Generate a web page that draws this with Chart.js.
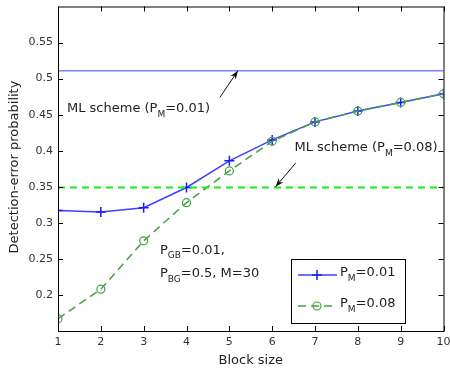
<!DOCTYPE html>
<html>
<head>
<meta charset="utf-8">
<script src="https://cdn.jsdelivr.net/npm/chart.js@4"></script>
<style>
  html, body { margin: 0; padding: 0; background: #fff; }
  #wrap { width: 450px; height: 371px; }
</style>
</head>
<body>
<div id="wrap"><canvas id="bpChart" width="450" height="371"></canvas></div>
<script>
// Values
const blockSizes = [1, 2, 3, 4, 5, 6, 7, 8, 9, 10];
const pm001 = [0.317, 0.315, 0.321, 0.349, 0.386, 0.415, 0.440, 0.455, 0.467, 0.479];
const pm008 = [0.167, 0.208, 0.275, 0.328, 0.372, 0.413, 0.440, 0.455, 0.467, 0.479];
const mlPm001 = 0.511;
const mlPm008 = 0.349;
const yTicks = [0.2, 0.25, 0.3, 0.35, 0.4, 0.45, 0.5, 0.55];
const xTicks = [1, 2, 3, 4, 5, 6, 7, 8, 9, 10];

const FONT = 'DejaVu Sans';

function toPoints(ys) {
  return blockSizes.map((x, i) => ({ x: x, y: ys[i] }));
}

// Draw text with a subscript part: parts = [[text, isSub], ...]
function drawSubText(ctx, x, y, parts, size) {
  let cx = x;
  parts.forEach(([t, sub]) => {
    ctx.font = (sub ? Math.round(size * 0.7) : size) + 'px ' + FONT;
    ctx.fillText(t, cx, sub ? y + size * 0.45 : y);
    cx += ctx.measureText(t).width;
  });
}

function arrow(ctx, x1, y1, x2, y2) {
  const a = Math.atan2(y2 - y1, x2 - x1);
  ctx.save();
  ctx.strokeStyle = '#111';
  ctx.fillStyle = '#111';
  ctx.lineWidth = 1;
  ctx.beginPath();
  ctx.moveTo(x1, y1);
  ctx.lineTo(x2, y2);
  ctx.stroke();
  ctx.beginPath();
  ctx.moveTo(x2, y2);
  ctx.lineTo(x2 - 9 * Math.cos(a - 0.35), y2 - 9 * Math.sin(a - 0.35));
  ctx.lineTo(x2 - 6 * Math.cos(a), y2 - 6 * Math.sin(a));
  ctx.lineTo(x2 - 9 * Math.cos(a + 0.35), y2 - 9 * Math.sin(a + 0.35));
  ctx.closePath();
  ctx.fill();
  ctx.restore();
}

// Box, inside ticks, annotations, axis titles and legend (MATLAB look)
const decorPlugin = {
  id: 'decor',
  afterDraw(chart) {
    const ctx = chart.ctx;
    const { left, right, top, bottom } = chart.chartArea;
    const xs = chart.scales.x;
    const ys = chart.scales.y;
    ctx.save();

    // box
    ctx.strokeStyle = '#000';
    ctx.lineWidth = 1;
    ctx.strokeRect(left + 0.5, top + 0.5, right - left, bottom - top);

    // inside ticks
    ctx.beginPath();
    xTicks.forEach((v) => {
      const px = Math.round(xs.getPixelForValue(v)) + 0.5;
      ctx.moveTo(px, bottom); ctx.lineTo(px, bottom - 5);
      ctx.moveTo(px, top); ctx.lineTo(px, top + 5);
    });
    yTicks.forEach((v) => {
      const py = Math.round(ys.getPixelForValue(v)) + 0.5;
      ctx.moveTo(left, py); ctx.lineTo(left + 5, py);
      ctx.moveTo(right, py); ctx.lineTo(right - 5, py);
    });
    ctx.stroke();

    // annotations
    ctx.fillStyle = '#222';
    ctx.textBaseline = 'middle';
    ctx.textAlign = 'left';
    drawSubText(ctx, xs.getPixelForValue(1.21), ys.getPixelForValue(0.458),
      [['ML scheme (P', false], ['M', true], ['=0.01)', false]], 13);
    drawSubText(ctx, xs.getPixelForValue(6.52), ys.getPixelForValue(0.404),
      [['ML scheme (P', false], ['M', true], ['=0.08)', false]], 13);
    drawSubText(ctx, xs.getPixelForValue(3.38), ys.getPixelForValue(0.262),
      [['P', false], ['GB', true], ['=0.01,', false]], 13);
    drawSubText(ctx, xs.getPixelForValue(3.38), ys.getPixelForValue(0.23),
      [['P', false], ['BG', true], ['=0.5, M=30', false]], 13);

    arrow(ctx, xs.getPixelForValue(4.78), ys.getPixelForValue(0.474),
      xs.getPixelForValue(5.2), ys.getPixelForValue(0.511));
    arrow(ctx, xs.getPixelForValue(6.55), ys.getPixelForValue(0.383),
      xs.getPixelForValue(6.08), ys.getPixelForValue(0.35));

    // axis titles
    ctx.font = '13px ' + FONT;
    ctx.textAlign = 'center';
    ctx.fillText('Block size', (left + right) / 2, 361);
    ctx.save();
    ctx.translate(15, 167);
    ctx.rotate(-Math.PI / 2);
    ctx.fillText('Detection-error probability', 0, 0);
    ctx.restore();

    // legend
    const lx = 291, ly = 259, lw = 114, lh = 64;
    ctx.fillStyle = '#fff';
    ctx.fillRect(lx, ly, lw, lh);
    ctx.strokeStyle = '#000';
    ctx.strokeRect(lx + 0.5, ly + 0.5, lw, lh);

    const ds = chart.data.datasets;
    const entries = [
      { d: ds[3], y: 275, label: '=0.01' },
      { d: ds[2], y: 306, label: '=0.08' }
    ];
    entries.forEach((e) => {
      ctx.save();
      ctx.strokeStyle = e.d.borderColor;
      ctx.lineWidth = e.d.borderWidth;
      ctx.setLineDash(e.d.borderDash || []);
      ctx.beginPath();
      ctx.moveTo(298, e.y);
      ctx.lineTo(337, e.y);
      ctx.stroke();
      ctx.setLineDash([]);
      ctx.strokeStyle = e.d.pointBorderColor;
      ctx.lineWidth = e.d.pointBorderWidth;
      ctx.beginPath();
      if (e.d.pointStyle === 'cross') {
        ctx.moveTo(317, e.y - 5); ctx.lineTo(317, e.y + 5);
        ctx.moveTo(312, e.y); ctx.lineTo(322, e.y);
      } else {
        ctx.arc(317, e.y, e.d.pointRadius, 0, Math.PI * 2);
      }
      ctx.stroke();
      ctx.restore();
      ctx.fillStyle = '#222';
      ctx.textAlign = 'left';
      drawSubText(ctx, 340, e.y - 2, [['P', false], ['M', true], [e.label, false]], 13);
    });

    ctx.restore();
  }
};

const ctx = document.getElementById('bpChart').getContext('2d');
new Chart(ctx, {
  type: 'line',
  data: {
    datasets: [
      {
        label: 'ML scheme (PM=0.01)',
        data: toPoints(blockSizes.map(() => mlPm001)),
        borderColor: '#8080ff',
        borderWidth: 1.5,
        pointRadius: 0,
      },
      {
        label: 'ML scheme (PM=0.08)',
        data: toPoints(blockSizes.map(() => mlPm008)),
        borderColor: '#14f014',
        borderWidth: 1.8,
        borderDash: [7, 5],
        pointRadius: 0,
      },
      {
        label: 'PM=0.08',
        data: toPoints(pm008),
        borderColor: '#45a045',
        borderWidth: 1.5,
        borderDash: [8, 5],
        pointStyle: 'circle',
        pointRadius: 4,
        pointBorderColor: '#45a045',
        pointBackgroundColor: 'rgba(0,0,0,0)',
        pointBorderWidth: 1.2,
      },
      {
        label: 'PM=0.01',
        data: toPoints(pm001),
        borderColor: '#4040ff',
        borderWidth: 1.5,
        pointStyle: 'cross',
        pointRadius: 5,
        pointBorderColor: '#1a1aff',
        pointBorderWidth: 1.5,
      },
    ],
  },
  options: {
    responsive: false,
    animation: false,
    layout: { padding: 0 },
    plugins: {
      legend: { display: false },
      tooltip: { enabled: false },
    },
    scales: {
      x: {
        type: 'linear',
        min: 1,
        max: 10,
        afterFit: (s) => { s.height = 40; s.paddingLeft = 0; s.paddingRight = 6; },
        afterBuildTicks: (s) => { s.ticks = xTicks.map((v) => ({ value: v })); },
        grid: { display: false, drawTicks: false },
        border: { display: false },
        ticks: {
          padding: 5,
          color: '#333',
          font: { family: FONT, size: 11 },
          callback: (v) => String(v),
        },
      },
      y: {
        min: 0.15,
        max: 0.6,
        afterFit: (s) => { s.width = 58; s.paddingTop = 6; s.paddingBottom = 0; },
        afterBuildTicks: (s) => { s.ticks = yTicks.map((v) => ({ value: v })); },
        grid: { display: false, drawTicks: false },
        border: { display: false },
        ticks: {
          padding: 5,
          color: '#333',
          font: { family: FONT, size: 11 },
          callback: (v) => String(Math.round(v * 100) / 100),
        },
      },
    },
  },
  plugins: [decorPlugin],
});
</script>
</body>
</html>
